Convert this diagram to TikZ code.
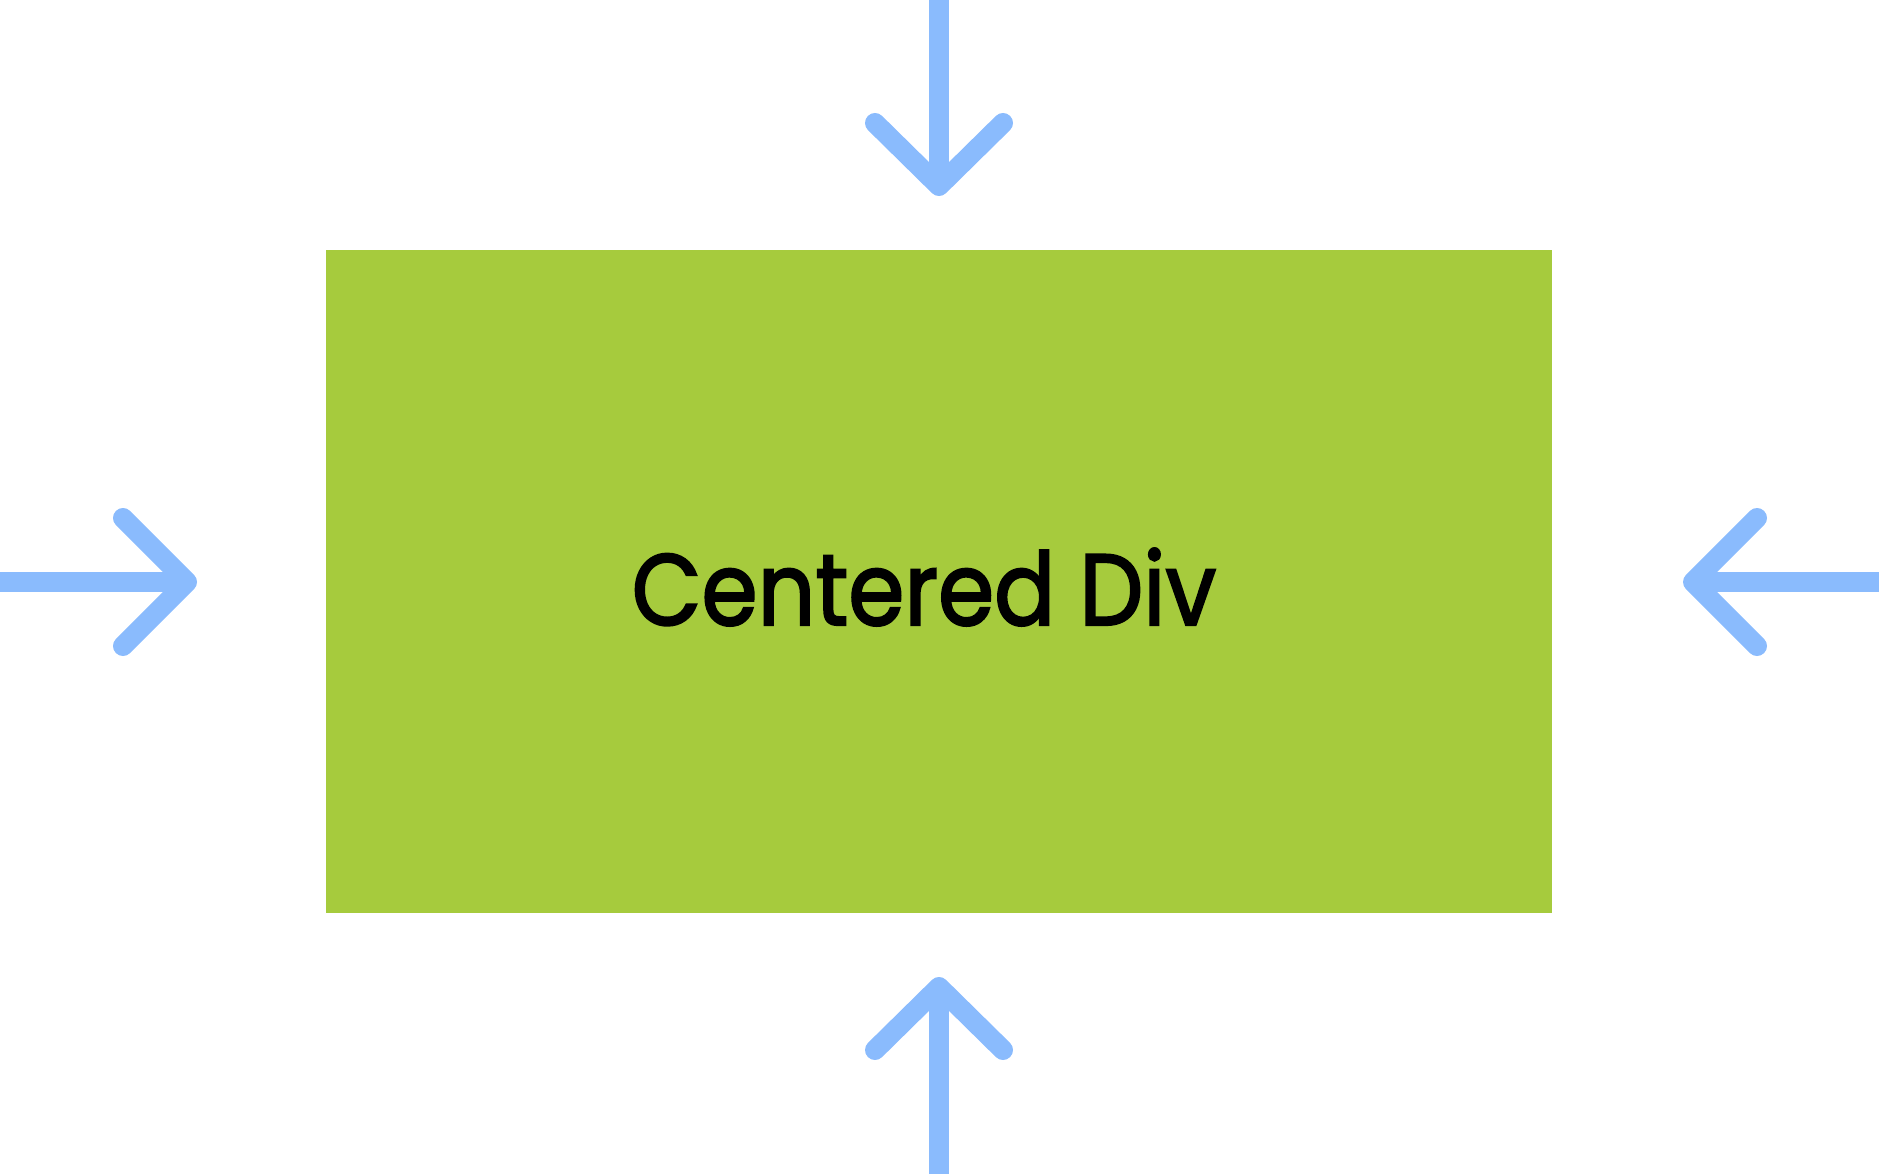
\documentclass[tikz,border=0pt]{standalone}
\usepackage{fontspec}
\newfontfamily\divfont[FakeBold=2.2]{Poppins}
\definecolor{divgreen}{HTML}{A6CB3D}
\definecolor{arrowblue}{HTML}{8ABBFD}
\tikzset{
    pointer/.style={draw=arrowblue, line width=20pt, line cap=round, line join=round},
    shaft/.style={draw=arrowblue, line width=20pt}
}
\begin{document}
\begin{tikzpicture}[x=1pt, y=-1pt]
    \useasboundingbox (0,0) rectangle (1879,1174);
    % Khối được căn giữa
    \fill[divgreen] (326,250) rectangle (1552,913);
    \node[anchor=base, inner sep=0pt, font=\divfont\fontsize{101}{120}\selectfont] (label) at (924,625)
        {\scalebox{0.895}[1]{Centered Div}};

    % Các điểm mũi tên
    \coordinate (topEnd) at (939,0);
    \coordinate (topTip) at (939,186);
    \coordinate (botEnd) at (939,1174);
    \coordinate (botTip) at (939,987);
    \coordinate (leftEnd) at (0,582);
    \coordinate (leftTip) at (187,582);
    \coordinate (rightEnd) at (1879,582);
    \coordinate (rightTip) at (1693,582);

    % Mũi tên trên
    \draw[shaft] (topEnd) -- (topTip);
    \draw[pointer] ([shift={(-64,-63)}]topTip) -- (topTip) -- ([shift={(64,-63)}]topTip);
    % Mũi tên dưới
    \draw[shaft] (botEnd) -- (botTip);
    \draw[pointer] ([shift={(-64,63)}]botTip) -- (botTip) -- ([shift={(64,63)}]botTip);
    % Mũi tên trái
    \draw[shaft] (leftEnd) -- (leftTip);
    \draw[pointer] ([shift={(-64,-64)}]leftTip) -- (leftTip) -- ([shift={(-64,64)}]leftTip);
    % Mũi tên phải
    \draw[shaft] (rightEnd) -- (rightTip);
    \draw[pointer] ([shift={(64,-64)}]rightTip) -- (rightTip) -- ([shift={(64,64)}]rightTip);
\end{tikzpicture}
\end{document}
